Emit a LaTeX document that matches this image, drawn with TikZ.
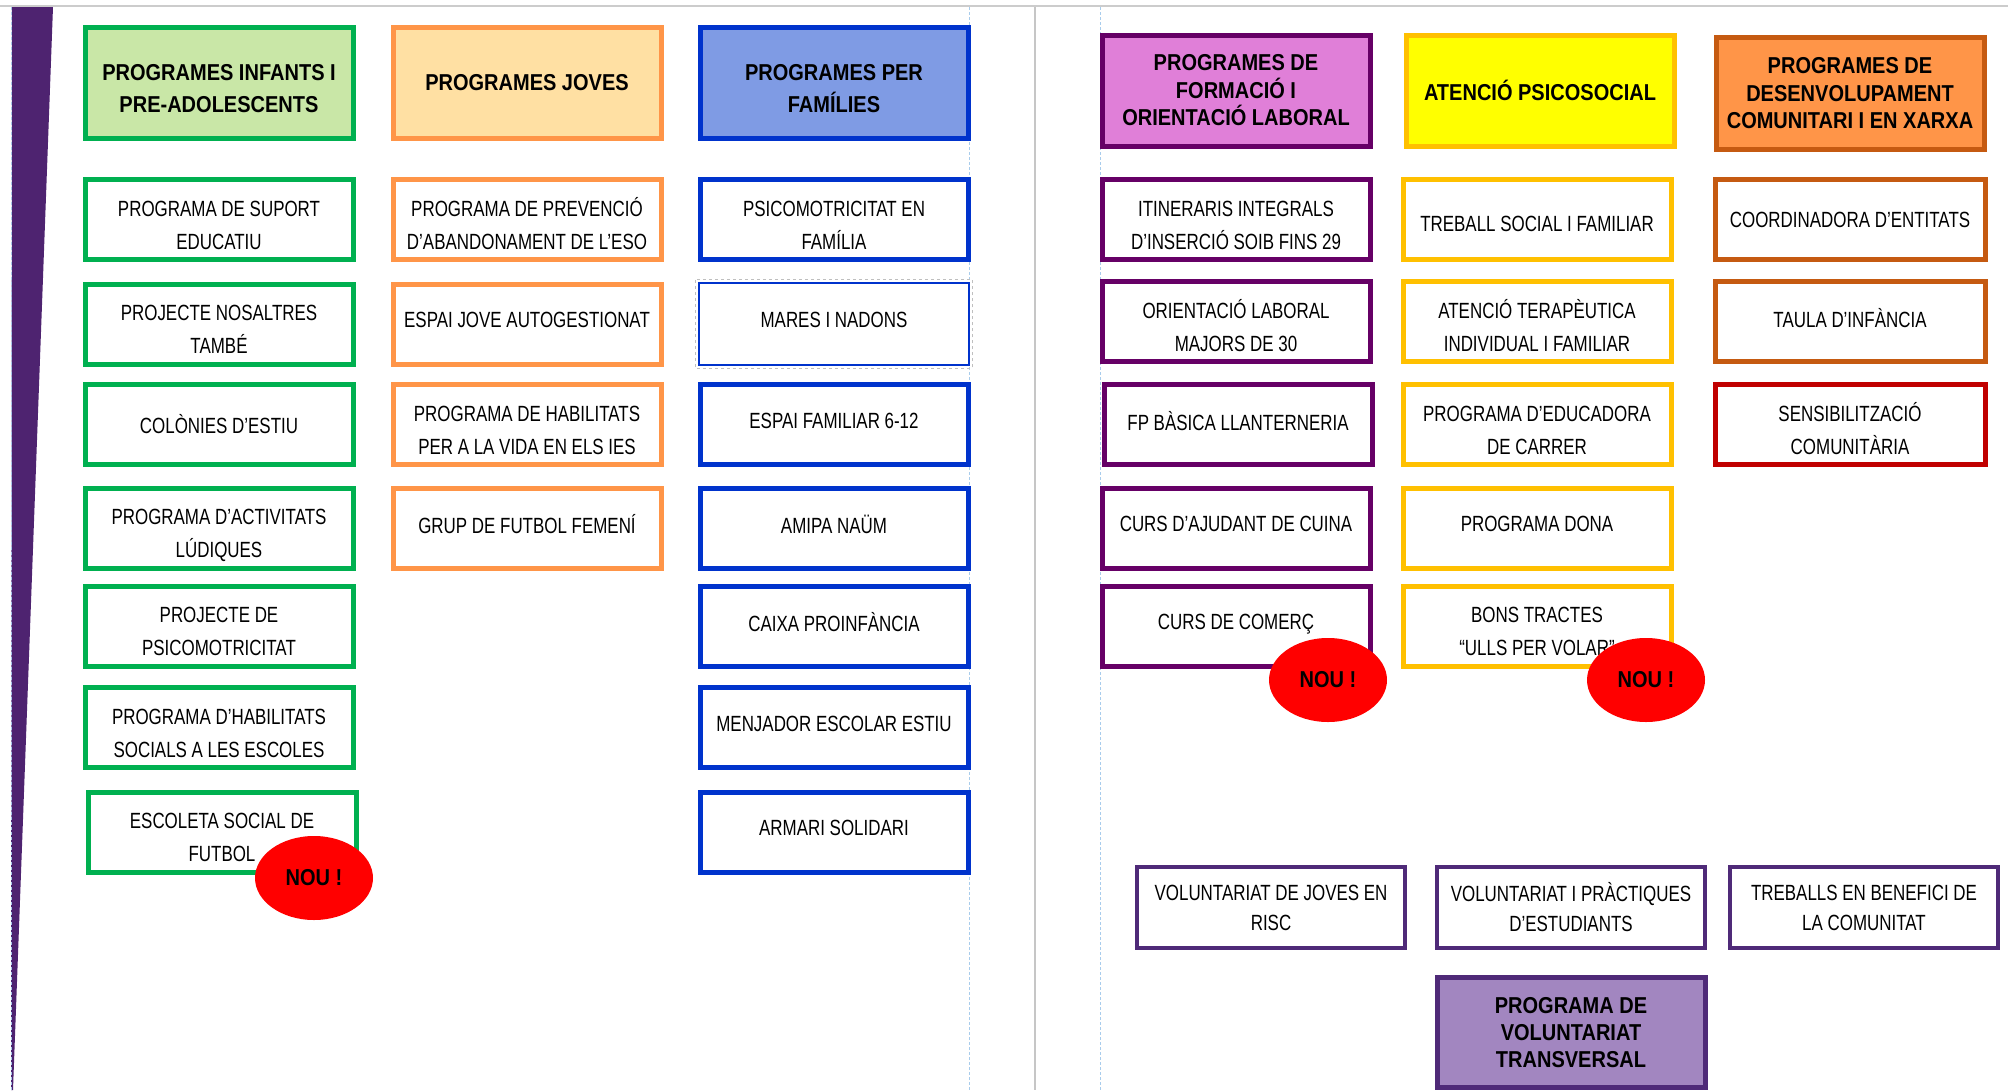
\documentclass[tikz,border=0pt]{standalone}
\usepackage{fontspec}
\setmainfont{Liberation Sans}[FakeStretch=0.77, BoldFeatures={FakeStretch=0.87}]
\usetikzlibrary{shapes.geometric}
\definecolor{infgreen}{HTML}{00B050}
\definecolor{infgreenfill}{HTML}{C9E7A7}
\definecolor{jovorange}{HTML}{FF9548}
\definecolor{jovfill}{HTML}{FFE0A3}
\definecolor{famblue}{HTML}{0033CC}
\definecolor{famfill}{HTML}{7F9BE4}
\definecolor{formpurple}{HTML}{660066}
\definecolor{formfill}{HTML}{E07FD8}
\definecolor{psigold}{HTML}{FFC000}
\definecolor{psiyellow}{HTML}{FFFF00}
\definecolor{comorange}{HTML}{C55A11}
\definecolor{comfill}{HTML}{FF9548}
\definecolor{sensred}{HTML}{C00000}
\definecolor{volpurple}{HTML}{4F2A78}
\definecolor{volfill}{HTML}{A286C0}
\definecolor{barpurple}{HTML}{4E2370}
\definecolor{guide}{HTML}{A8CCEC}
\tikzset{
    frame/.style = {
        rectangle, draw=#1, line width=5pt, fill=white, inner sep=0pt,
        minimum width=268pt, minimum height=80pt, align=center,
        font=\fontsize{22}{33}\selectfont
    },
    box/.style = {frame=#1, execute at end node={\rule[-8pt]{0pt}{8pt}}},
    twoline/.style = {execute at begin node={\rule{0pt}{67pt}}},
    lower/.style = {execute at begin node={\rule{0pt}{#1}}},
    head/.style = {frame=#1, minimum height=111pt, font=\bfseries\fontsize{23}{32}\selectfont},
    headtwo/.style = {head=#1, execute at begin node={\rule{0pt}{58.5pt}}},
    headthree/.style = {head=#1, font=\bfseries\fontsize{23}{27.5}\selectfont},
    volbox/.style = {frame=volpurple, line width=4pt, minimum height=81pt, font=\fontsize{22}{30}\selectfont},
    nou/.style = {ellipse, fill=red, inner sep=0pt, minimum width=118pt, minimum height=84pt,
        font=\bfseries\fontsize{23}{23}\selectfont},
    guideline/.style = {guide, line width=1pt, dash pattern=on 3pt off 2pt}
}
\begin{document}
\begin{tikzpicture}[x=1pt, y=-1pt]
    \useasboundingbox (0, 0) rectangle (2008, 1090);
    % page frame
    \draw[gray!40, line width=2pt] (0, 6) -- (2008, 6);
    \fill[barpurple] (12, 7) -- (53, 7) -- (13, 1090) -- (11, 1090) -- cycle;
    \draw[guideline] (11, 7) -- (11, 1090);
    \draw[guideline] (969, 7) -- (969, 1090);
    \draw[gray!45, line width=1.5pt] (1035, 7) -- (1035, 1090);
    \draw[guideline] (1100, 7) -- (1100, 1090);
    % infants
    \node[headtwo=infgreen, fill=infgreenfill] (infants) at (219, 83) {PROGRAMES INFANTS I\\PRE-ADOLESCENTS};
    \node[box=infgreen, twoline] (suport) at (219, 219.5) {PROGRAMA DE SUPORT\\EDUCATIU};
    \node[box=infgreen, twoline] (nosaltres) at (219, 324) {PROJECTE NOSALTRES\\TAMBÉ};
    \node[box=infgreen, lower=26pt] (colonies) at (219, 424.5) {COLÒNIES D’ESTIU};
    \node[box=infgreen, twoline] (ludiques) at (219, 528) {PROGRAMA D’ACTIVITATS\\LÚDIQUES};
    \node[box=infgreen, twoline] (psicomot) at (219, 626) {PROJECTE DE\\PSICOMOTRICITAT};
    \node[box=infgreen, twoline] (habsocials) at (219, 727.5) {PROGRAMA D’HABILITATS\\SOCIALS A LES ESCOLES};
    \node[box=infgreen, twoline] (escoleta) at (222, 832) {ESCOLETA SOCIAL DE\\FUTBOL};
    \node[nou] (nouescoleta) at (314, 878) {NOU !};
    % joves
    \node[head=jovorange, fill=jovfill] (joves) at (527, 83) {PROGRAMES JOVES};
    \node[box=jovorange, twoline] (prevencio) at (527, 219.5) {PROGRAMA DE PREVENCIÓ\\D’ABANDONAMENT DE L’ESO};
    \node[box=jovorange] (espaijove) at (527, 324) {ESPAI JOVE AUTOGESTIONAT};
    \node[box=jovorange, twoline] (habvida) at (527, 424.5) {PROGRAMA DE HABILITATS\\PER A LA VIDA EN ELS IES};
    \node[box=jovorange] (futbolfem) at (527, 528) {GRUP DE FUTBOL FEMENÍ};
    % families
    \node[headtwo=famblue, fill=famfill] (families) at (834, 83) {PROGRAMES PER\\FAMÍLIES};
    \node[box=famblue, twoline] (psicofam) at (834, 219.5) {PSICOMOTRICITAT EN\\FAMÍLIA};
    \node[box=famblue, line width=2.5pt, minimum width=270pt, minimum height=82pt] (mares) at (834, 324) {MARES I NADONS};
    \draw[gray!50, line width=1pt, dashed] ([shift={(-2, -2)}]mares.north west) rectangle ([shift={(2, 2)}]mares.south east);
    \node[box=famblue] (espaifam) at (834, 424.5) {ESPAI FAMILIAR 6-12};
    \node[box=famblue] (amipa) at (834, 528) {AMIPA NAÜM};
    \node[box=famblue] (caixa) at (834, 626) {CAIXA PROINFÀNCIA};
    \node[box=famblue] (menjador) at (834, 727.5) {MENJADOR ESCOLAR ESTIU};
    \node[box=famblue] (armari) at (834, 832) {ARMARI SOLIDARI};
    % formacio
    \node[headthree=formpurple, fill=formfill] (formacio) at (1236, 90.5) {PROGRAMES DE\\FORMACIÓ I\\ORIENTACIÓ LABORAL};
    \node[box=formpurple, twoline] (itineraris) at (1236, 219.5) {ITINERARIS INTEGRALS\\D’INSERCIÓ SOIB FINS 29};
    \node[box=formpurple, twoline] (majors) at (1236, 321.5) {ORIENTACIÓ LABORAL\\MAJORS DE 30};
    \node[box=formpurple] (fpbasica) at (1238, 424.5) {FP BÀSICA LLANTERNERIA};
    \node[box=formpurple] (cuina) at (1236, 528) {CURS D’AJUDANT DE CUINA};
    \node[box=formpurple] (comerc) at (1236, 626) {CURS DE COMERÇ};
    \node[nou] (noucomerc) at (1328, 680) {NOU !};
    % psicosocial
    \node[head=psigold, fill=psiyellow] (psicosocial) at (1540, 90.5) {ATENCIÓ PSICOSOCIAL};
    \node[box=psigold, lower=31pt] (treball) at (1537, 219.5) {TREBALL SOCIAL I FAMILIAR};
    \node[box=psigold, twoline] (terapeutica) at (1537, 321.5) {ATENCIÓ TERAPÈUTICA\\INDIVIDUAL I FAMILIAR};
    \node[box=psigold, twoline] (educadora) at (1537, 424.5) {PROGRAMA D’EDUCADORA\\DE CARRER};
    \node[box=psigold] (dona) at (1537, 528) {PROGRAMA DONA};
    \node[box=psigold, twoline] (bons) at (1537, 626) {BONS TRACTES\\“ULLS PER VOLAR”};
    \node[nou] (noubons) at (1646, 680) {NOU !};
    % comunitari
    \node[headthree=comorange, fill=comfill, minimum height=112pt] (comunitari) at (1850, 93.5) {PROGRAMES DE\\DESENVOLUPAMENT\\COMUNITARI I EN XARXA};
    \node[box=comorange, minimum width=270pt, lower=24pt] (coordinadora) at (1850, 219.5) {COORDINADORA D’ENTITATS};
    \node[box=comorange, minimum width=270pt] (taula) at (1850, 321.5) {TAULA D’INFÀNCIA};
    \node[box=sensred, minimum width=270pt, twoline] (sensibilitzacio) at (1850, 424.5) {SENSIBILITZACIÓ\\COMUNITÀRIA};
    % voluntariat
    \node[volbox] (volrisc) at (1271, 907.5) {VOLUNTARIAT DE JOVES EN\\RISC};
    \node[volbox] (volpractiques) at (1571, 907.5) {VOLUNTARIAT I PRÀCTIQUES\\D’ESTUDIANTS};
    \node[volbox] (benefici) at (1864, 907.5) {TREBALLS EN BENEFICI DE\\LA COMUNITAT};
    \node[headthree=volpurple, fill=volfill, minimum height=110pt, font=\bfseries\fontsize{23}{27}\selectfont] (transversal) at (1571, 1032.5) {PROGRAMA DE\\VOLUNTARIAT\\TRANSVERSAL};
\end{tikzpicture}
\end{document}
